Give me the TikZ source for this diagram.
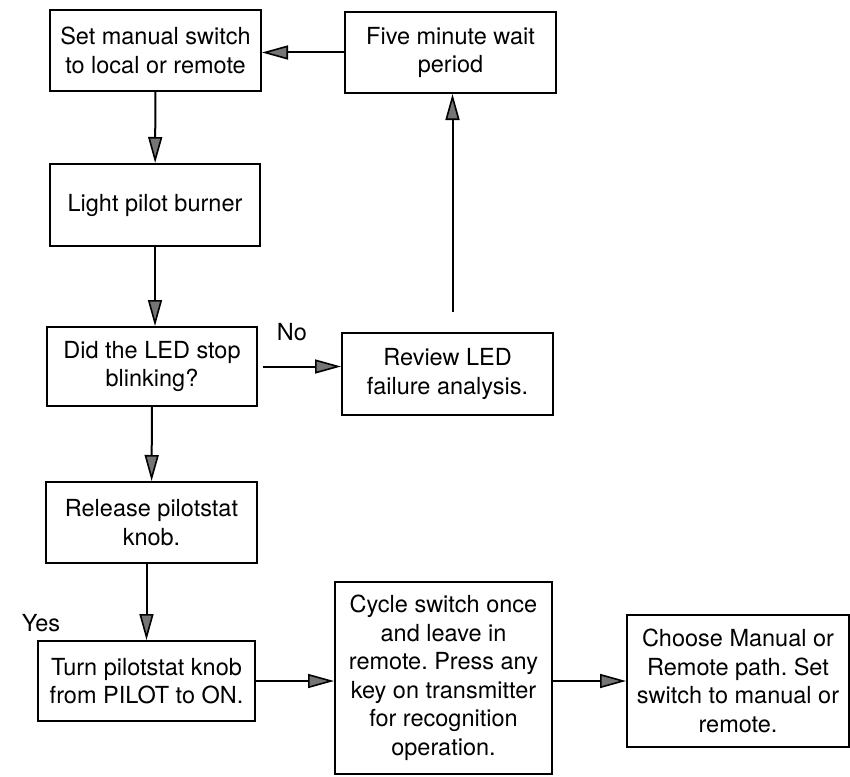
\documentclass[tikz,border=0pt]{standalone}
\usepackage{fontspec}
\setmainfont{TeX Gyre Heros}
\usetikzlibrary{arrows.meta}
\frenchspacing

\begin{document}
\begin{tikzpicture}
	[
	x=1pt, y=-1pt,
	align=center,
	font=\fontsize{23.5}{28.5}\selectfont,
	box/.style={rectangle, draw=black, line width=2pt, inner sep=0pt},
	arr/.style={line width=2pt, -{Triangle[length=26pt, width=14pt, fill=gray!45!black!70, line width=1.6pt]}},
	tag/.style={inner sep=0pt}
	]
		\useasboundingbox (0,0) rectangle (850,776);

		% top row
		\node[box, minimum width=211, minimum height=81] (set) at (155.5, 50.5) {Set manual switch\\to local or remote};
		\node[box, minimum width=211, minimum height=81] (five) at (450.5, 52.5) {Five minute wait\\period};

		% left column
		\node[box, minimum width=210, minimum height=82] (light) at (155, 205) {Light pilot burner};
		\node[box, minimum width=210, minimum height=79] (did) at (152, 366.5) {Did the LED stop\\blinking?};
		\node[box, minimum width=211, minimum height=81] (release) at (151.5, 522.5) {Release pilotstat\\knob.};
		\node[box, minimum width=217, minimum height=80] (turn) at (146.5, 681) {Turn pilotstat knob\\from PILOT to ON.};

		% right side
		\node[box, minimum width=211, minimum height=82] (review) at (447.5, 374) {Review LED\\failure analysis.};
		\node[box, minimum width=217, minimum height=192] (cycle) at (443.5, 678) {Cycle switch once\\and leave in\\remote. Press any\\key on transmitter\\for recognition\\operation.};
		\node[box, minimum width=222, minimum height=132] (choose) at (738, 681) {Choose Manual or\\Remote path. Set\\switch to manual or\\remote.};

		% branch labels
		\node[tag] (no) at (292, 332) {No};
		\node[tag] (yes) at (41, 623) {Yes};

		% drawing code
		\foreach \from/\to in {set/light,did/release} \draw[arr] (\from) -- (\to);
		\draw[arr] (five.west) -- (five.west -| set.east);
		\draw[arr] (light.south) -- (light.south |- did.north);
		\draw[arr, shorten <=5pt] (did.east) -- (did.east -| review.west);
		\draw[arr, shorten <=20pt] ([xshift=5pt]review.north) -- ([xshift=5pt]review.north |- five.south);
		\draw[arr] (turn.north |- release.south) -- (turn.north);
		\draw[arr] (turn.east) -- (turn.east -| cycle.west);
		\draw[arr] (cycle.east |- choose.west) -- (choose.west);
	\end{tikzpicture}
\end{document}
